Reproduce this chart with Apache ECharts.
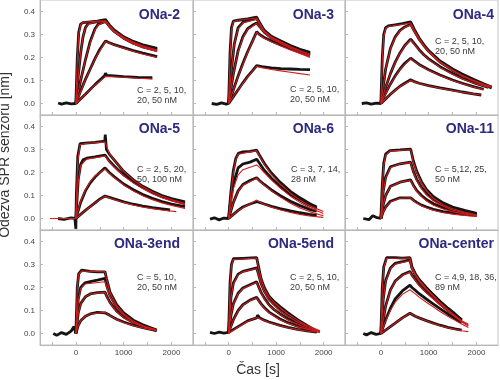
<!DOCTYPE html>
<html><head><meta charset="utf-8">
<script src="https://cdn.jsdelivr.net/npm/echarts@6/dist/echarts.min.js"></script>
<style>html,body{margin:0;padding:0;background:#fff}#c{width:500px;height:380px}</style>
</head><body><div id="c"></div>
<script>
// ---------- text / ticks ----------
const panelTitles = ['ONa-2','ONa-3','ONa-4','ONa-5','ONa-6','ONa-11','ONa-3end','ONa-5end','ONa-center'];
const concLabels = [
  'C = 2, 5, 10,\n20, 50 nM','C = 2, 5, 10,\n20, 50 nM','C = 2, 5, 10,\n20, 50 nM',
  'C = 2, 5, 20,\n50, 100 nM','C = 3, 7, 14,\n28 nM','C = 5,12, 25,\n50 nM',
  'C = 5, 10,\n20, 50 nM','C = 2, 5, 10,\n20, 50 nM','C = 4,9, 18, 36,\n89 nM'];
const xTickValues = [-500,0,500,1000,1500,2000];
const xLabelValues = [0,1000,2000];
const yTickValues = [0,0.1,0.2,0.3,0.4];
const yAxisTitle = 'Odezva SPR senzoru [nm]';
const xAxisTitle = 'Čas [s]';

// ---------- ONa-2 ----------
const ona2Data = [
 [[-370,0.002],[-300,-0.003],[-200,0.003],[-100,-0.002],[0,0],[30,0.2],[60,0.31],[100,0.345],[150,0.352],[300,0.355],[450,0.358],[620,0.365],[700,0.342],[800,0.32],[1000,0.29],[1200,0.27],[1400,0.255],[1700,0.24]],
 [[0,0],[50,0.12],[100,0.22],[150,0.29],[200,0.33],[260,0.348],[400,0.354],[620,0.36],[700,0.338],[800,0.316],[1000,0.287],[1200,0.266],[1400,0.25],[1700,0.235]],
 [[0,0],[100,0.1],[200,0.19],[300,0.27],[400,0.325],[470,0.345],[620,0.357],[700,0.336],[800,0.314],[1000,0.284],[1200,0.262],[1400,0.246],[1700,0.23]],
 [[0,0],[100,0.055],[200,0.105],[300,0.15],[400,0.195],[500,0.235],[620,0.272],[700,0.264],[800,0.256],[1000,0.243],[1200,0.23],[1400,0.219],[1700,0.204]],
 [[0,0],[200,0.04],[400,0.082],[600,0.12],[620,0.132],[650,0.122],[800,0.12],[1000,0.117],[1300,0.114],[1600,0.112]]];
const ona2Fit = [
 [[0,0],[30,0.19],[60,0.3],[100,0.343],[150,0.352],[300,0.356],[620,0.36],[700,0.34],[800,0.318],[1000,0.288],[1200,0.267],[1400,0.251],[1700,0.233]],
 [[0,0],[50,0.12],[100,0.22],[150,0.29],[200,0.328],[260,0.345],[400,0.353],[620,0.357],[700,0.336],[800,0.314],[1000,0.285],[1200,0.263],[1400,0.247],[1700,0.23]],
 [[0,0],[100,0.1],[200,0.19],[300,0.265],[400,0.32],[470,0.342],[620,0.355],[700,0.334],[800,0.312],[1000,0.281],[1200,0.259],[1400,0.243],[1700,0.226]],
 [[0,0],[200,0.103],[400,0.193],[620,0.27],[800,0.254],[1000,0.24],[1200,0.227],[1400,0.215],[1700,0.2]],
 [[0,0],[200,0.04],[400,0.08],[620,0.118],[800,0.116],[1000,0.114],[1300,0.11],[1600,0.107]]];

// ---------- ONa-3 ----------
const ona3Data = [
 [[-356,0],[-250,-0.004],[-150,0.003],[-50,-0.003],[0,0],[30,0.22],[60,0.33],[100,0.358],[200,0.362],[400,0.368],[590,0.376],[650,0.352],[750,0.318],[900,0.292],[1100,0.272],[1300,0.252],[1500,0.236],[1714,0.222]],
 [[0,0],[60,0.15],[120,0.26],[200,0.33],[310,0.355],[450,0.362],[590,0.37],[650,0.348],[750,0.315],[900,0.288],[1100,0.268],[1300,0.249],[1500,0.233],[1714,0.218]],
 [[0,0],[100,0.13],[200,0.23],[300,0.29],[400,0.325],[500,0.34],[590,0.35],[650,0.335],[750,0.31],[900,0.285],[1100,0.263],[1300,0.244],[1500,0.228],[1714,0.213]],
 [[0,0],[100,0.06],[200,0.12],[300,0.175],[400,0.225],[500,0.27],[590,0.312],[650,0.3],[750,0.287],[900,0.272],[1100,0.255],[1300,0.239],[1500,0.223],[1714,0.208]],
 [[0,0],[100,0.03],[200,0.06],[300,0.09],[400,0.118],[500,0.142],[590,0.165],[700,0.16],[900,0.155],[1100,0.152],[1300,0.15],[1500,0.148],[1714,0.147]]];
const ona3Fit = [
 [[0,0],[30,0.21],[60,0.32],[100,0.355],[200,0.362],[590,0.372],[650,0.35],[750,0.316],[900,0.29],[1100,0.268],[1300,0.248],[1500,0.23],[1714,0.214]],
 [[0,0],[60,0.15],[120,0.26],[200,0.325],[310,0.352],[590,0.366],[650,0.346],[750,0.313],[900,0.287],[1100,0.265],[1300,0.245],[1500,0.228],[1714,0.21]],
 [[0,0],[100,0.13],[200,0.225],[300,0.285],[400,0.322],[590,0.348],[650,0.333],[750,0.308],[900,0.282],[1100,0.26],[1300,0.24],[1500,0.222],[1714,0.205]],
 [[0,0],[200,0.118],[400,0.222],[590,0.31],[650,0.298],[750,0.284],[900,0.268],[1100,0.25],[1300,0.233],[1500,0.217],[1714,0.2]],
 [[0,0],[200,0.06],[400,0.116],[590,0.162],[700,0.156],[900,0.148],[1100,0.142],[1300,0.136],[1500,0.13],[1714,0.124]]];

// ---------- ONa-4 ----------
const ona4Data = [
 [[-400,0],[-300,0.003],[-200,-0.003],[-100,0.002],[0,0],[30,0.2],[60,0.3],[100,0.33],[155,0.337],[300,0.342],[450,0.347],[623,0.355],[700,0.322],[800,0.285],[900,0.255],[1000,0.23],[1237,0.185],[1500,0.15],[1700,0.128],[1934,0.105],[2150,0.086],[2318,0.072]],
 [[0,0],[100,0.15],[200,0.24],[300,0.29],[400,0.318],[500,0.333],[623,0.345],[700,0.315],[800,0.28],[900,0.252],[1000,0.227],[1237,0.18],[1500,0.145],[1700,0.122],[1934,0.099],[2150,0.082],[2318,0.068]],
 [[0,0],[100,0.07],[200,0.13],[300,0.18],[400,0.22],[500,0.252],[623,0.28],[700,0.26],[800,0.234],[900,0.212],[1000,0.194],[1237,0.16],[1500,0.13],[1700,0.11],[1934,0.091],[2150,0.076],[2250,0.07]],
 [[0,0],[100,0.045],[200,0.085],[300,0.12],[400,0.15],[500,0.175],[623,0.197],[700,0.185],[800,0.17],[1000,0.147],[1237,0.124],[1500,0.102],[1700,0.088],[1934,0.073],[2150,0.062]],
 [[0,0],[100,0.02],[200,0.04],[300,0.058],[400,0.075],[500,0.088],[623,0.103],[700,0.095],[800,0.088],[1000,0.078],[1237,0.068],[1500,0.058],[1700,0.05],[1934,0.042],[2100,0.037]]];
const ona4Fit = [
 [[0,0],[30,0.19],[60,0.29],[100,0.325],[155,0.335],[623,0.35],[700,0.32],[800,0.283],[900,0.253],[1000,0.228],[1237,0.182],[1500,0.146],[1700,0.123],[1934,0.101],[2150,0.085],[2318,0.074]],
 [[0,0],[100,0.15],[200,0.238],[300,0.288],[400,0.316],[500,0.331],[623,0.342],[700,0.312],[800,0.277],[900,0.249],[1000,0.224],[1237,0.178],[1500,0.143],[1700,0.12],[1934,0.098],[2150,0.08],[2318,0.069]],
 [[0,0],[100,0.07],[200,0.13],[300,0.178],[400,0.218],[500,0.25],[623,0.277],[700,0.257],[800,0.232],[1000,0.192],[1237,0.157],[1500,0.127],[1700,0.108],[1934,0.089],[2250,0.07]],
 [[0,0],[200,0.085],[400,0.148],[623,0.195],[700,0.183],[800,0.168],[1000,0.145],[1237,0.122],[1500,0.1],[1700,0.086],[1934,0.072],[2150,0.061]],
 [[0,0],[200,0.04],[400,0.074],[623,0.1],[700,0.094],[800,0.087],[1000,0.077],[1237,0.066],[1500,0.056],[1700,0.049],[1934,0.042],[2100,0.037]]];

// ---------- ONa-5 ----------
const ona5Data = [
 [[-370,0],[-250,-0.004],[-100,0.003],[-20,0],[0,-0.045],[10,0.1],[40,0.27],[87,0.325],[200,0.328],[400,0.331],[605,0.336],[615,0.365],[640,0.3],[700,0.28],[800,0.255],[900,0.23],[1000,0.205],[1202,0.168],[1400,0.14],[1600,0.118],[1800,0.1],[2000,0.087],[2283,0.072]],
 [[0,0],[50,0.17],[100,0.235],[150,0.255],[227,0.262],[400,0.268],[610,0.276],[700,0.25],[800,0.228],[900,0.208],[1000,0.19],[1202,0.16],[1400,0.135],[1600,0.113],[1800,0.095],[2000,0.082],[2283,0.066]],
 [[0,0],[100,0.07],[200,0.12],[300,0.155],[400,0.18],[500,0.2],[610,0.22],[700,0.2],[800,0.182],[1000,0.15],[1202,0.125],[1400,0.104],[1600,0.088],[1800,0.074],[2000,0.063],[2283,0.052]],
 [[0,0],[100,0.018],[200,0.035],[300,0.052],[400,0.068],[500,0.084],[610,0.098],[700,0.092],[800,0.085],[1000,0.072],[1200,0.062],[1400,0.054],[1600,0.047],[1800,0.042],[1970,0.037]]];
const ona5Fit = [
 [[-540,0],[0,0],[10,0.08],[40,0.25],[87,0.32],[200,0.326],[610,0.333],[700,0.282],[800,0.255],[1000,0.205],[1202,0.167],[1400,0.138],[1600,0.115],[1800,0.097],[2000,0.082],[2283,0.065]],
 [[0,0],[50,0.16],[100,0.23],[227,0.258],[610,0.272],[700,0.247],[800,0.224],[1000,0.186],[1202,0.155],[1400,0.13],[1600,0.108],[1800,0.09],[2000,0.076],[2283,0.06]],
 [[0,0],[100,0.075],[200,0.125],[300,0.16],[400,0.185],[610,0.215],[700,0.197],[800,0.178],[1000,0.146],[1202,0.12],[1400,0.099],[1600,0.082],[1800,0.068],[2000,0.057],[2283,0.044]],
 [[-540,0],[0,0],[200,0.035],[400,0.068],[610,0.097],[800,0.083],[1000,0.07],[1200,0.059],[1400,0.05],[1600,0.043],[1800,0.037],[2100,0.03]]];

// ---------- ONa-6 ----------
const ona6Data = [
 [[-392,-0.003],[-300,0.003],[-200,-0.006],[-100,0.002],[0,0],[50,0.12],[100,0.21],[150,0.26],[205,0.283],[300,0.29],[450,0.292],[590,0.297],[650,0.275],[750,0.24],[900,0.198],[1082,0.158],[1300,0.118],[1500,0.09],[1700,0.065],[1855,0.05]],
 [[0,0],[50,0.09],[100,0.15],[200,0.22],[300,0.237],[450,0.245],[590,0.258],[650,0.24],[750,0.21],[900,0.175],[1082,0.14],[1300,0.105],[1500,0.08],[1700,0.058],[1855,0.045]],
 [[0,0],[100,0.07],[200,0.12],[300,0.148],[450,0.165],[590,0.177],[650,0.165],[750,0.148],[900,0.124],[1082,0.1],[1300,0.075],[1500,0.056],[1700,0.04],[1855,0.032]],
 [[0,0],[100,0.018],[200,0.035],[300,0.05],[450,0.063],[590,0.073],[650,0.07],[750,0.063],[900,0.053],[1082,0.043],[1300,0.033],[1500,0.025],[1700,0.018],[1855,0.014]]];
const ona6Fit = [
 [[0,0],[50,0.11],[100,0.2],[150,0.255],[205,0.28],[590,0.295],[650,0.272],[750,0.236],[900,0.192],[1082,0.15],[1300,0.11],[1500,0.08],[1700,0.056],[1994,0.03]],
 [[0,0],[100,0.13],[200,0.19],[300,0.212],[590,0.233],[650,0.222],[750,0.2],[900,0.168],[1082,0.133],[1300,0.097],[1500,0.07],[1700,0.048],[1994,0.022]],
 [[0,0],[100,0.07],[200,0.118],[300,0.145],[590,0.175],[650,0.163],[750,0.145],[900,0.12],[1082,0.094],[1300,0.066],[1500,0.046],[1700,0.03],[1994,0.012]],
 [[0,0],[200,0.035],[400,0.058],[590,0.08],[650,0.072],[750,0.062],[900,0.05],[1082,0.038],[1300,0.026],[1500,0.018],[1700,0.011],[1994,0.005]]];

// ---------- ONa-11 ----------
const ona11Data = [
 [[-368,0],[-250,-0.005],[-170,0.012],[-100,0.005],[0,0],[30,0.15],[60,0.24],[100,0.28],[190,0.295],[400,0.298],[623,0.302],[680,0.25],[750,0.205],[850,0.16],[958,0.125],[1100,0.095],[1300,0.068],[1500,0.05],[1750,0.035],[2004,0.022]],
 [[0,0],[50,0.12],[100,0.18],[200,0.225],[400,0.238],[623,0.245],[680,0.205],[750,0.17],[850,0.135],[958,0.108],[1100,0.083],[1300,0.06],[1500,0.045],[1750,0.032],[2004,0.02]],
 [[0,0],[50,0.06],[100,0.1],[200,0.14],[400,0.158],[623,0.168],[680,0.145],[750,0.122],[850,0.1],[958,0.082],[1100,0.064],[1300,0.048],[1500,0.036],[1750,0.026],[2004,0.017]],
 [[0,0],[50,0.03],[100,0.05],[200,0.075],[400,0.09],[623,0.09],[680,0.08],[750,0.07],[850,0.058],[958,0.05],[1100,0.04],[1300,0.03],[1500,0.024],[1750,0.018],[2004,0.014]]];
const ona11Fit = [
 [[0,0],[30,0.14],[60,0.23],[100,0.275],[190,0.293],[623,0.3],[680,0.245],[750,0.2],[850,0.155],[958,0.12],[1100,0.088],[1300,0.06],[1500,0.042],[1750,0.027],[2004,0.016]],
 [[0,0],[50,0.115],[100,0.175],[200,0.222],[400,0.238],[623,0.243],[680,0.2],[750,0.165],[850,0.13],[958,0.102],[1100,0.077],[1300,0.053],[1500,0.037],[1750,0.024],[2004,0.014]],
 [[0,0],[50,0.06],[100,0.1],[200,0.138],[400,0.158],[623,0.165],[680,0.142],[750,0.118],[850,0.095],[958,0.076],[1100,0.058],[1300,0.041],[1500,0.029],[1750,0.019],[2004,0.012]],
 [[0,0],[50,0.028],[100,0.048],[200,0.072],[400,0.088],[623,0.09],[680,0.078],[750,0.067],[850,0.055],[958,0.046],[1100,0.036],[1300,0.026],[1500,0.019],[1750,0.013],[2004,0.009]]];

// ---------- ONa-3end ----------
const ona3endData = [
 [[-472,0],[-400,-0.008],[-300,0.004],[-200,-0.004],[-100,0.01],[-40,0.03],[0,0],[30,0.2],[60,0.26],[122,0.276],[300,0.27],[450,0.268],[610,0.268],[640,0.24],[714,0.18],[854,0.125],[1000,0.09],[1202,0.058],[1400,0.038],[1690,0.015]],
 [[0,0],[50,0.15],[100,0.2],[190,0.22],[300,0.226],[450,0.232],[610,0.24],[650,0.205],[714,0.165],[854,0.115],[1000,0.083],[1202,0.054],[1400,0.035],[1690,0.014]],
 [[0,0],[50,0.09],[100,0.13],[200,0.16],[300,0.172],[450,0.178],[610,0.18],[650,0.16],[714,0.135],[854,0.097],[1000,0.072],[1202,0.048],[1400,0.032],[1690,0.013]],
 [[0,0],[50,0.035],[100,0.055],[200,0.075],[300,0.085],[450,0.092],[610,0.09],[700,0.08],[854,0.062],[1000,0.05],[1202,0.036],[1400,0.026],[1690,0.012]]];
const ona3endFit = [
 [[0,0],[30,0.2],[60,0.258],[122,0.272],[610,0.268],[640,0.238],[714,0.178],[854,0.122],[1000,0.086],[1202,0.054],[1400,0.034],[1690,0.016]],
 [[0,0],[50,0.14],[100,0.195],[190,0.215],[610,0.225],[650,0.2],[714,0.162],[854,0.112],[1000,0.08],[1202,0.051],[1400,0.033],[1690,0.015]],
 [[0,0],[50,0.085],[100,0.128],[200,0.16],[300,0.172],[610,0.18],[650,0.158],[714,0.133],[854,0.095],[1000,0.07],[1202,0.046],[1400,0.03],[1690,0.014]],
 [[0,0],[50,0.035],[100,0.055],[200,0.075],[300,0.085],[610,0.092],[700,0.08],[854,0.061],[1000,0.048],[1202,0.034],[1400,0.024],[1690,0.012]]];

// ---------- ONa-5end ----------
const ona5endData = [
 [[-392,0.005],[-300,0],[-200,0.006],[-100,0.002],[0,0.005],[30,0.22],[60,0.3],[100,0.325],[300,0.327],[590,0.33],[620,0.3],[680,0.24],[750,0.2],[850,0.162],[950,0.14],[1082,0.117],[1250,0.09],[1450,0.06],[1650,0.035],[1855,0.01]],
 [[0,0.005],[50,0.16],[100,0.22],[200,0.258],[300,0.27],[450,0.278],[590,0.285],[620,0.265],[680,0.22],[750,0.185],[850,0.15],[950,0.128],[1082,0.102],[1250,0.078],[1450,0.05],[1650,0.03],[1855,0.01]],
 [[0,0.005],[50,0.08],[100,0.13],[200,0.175],[300,0.198],[450,0.212],[590,0.225],[620,0.21],[680,0.18],[750,0.155],[850,0.125],[950,0.105],[1082,0.085],[1250,0.063],[1450,0.043],[1650,0.025],[1855,0.01]],
 [[0,0.005],[100,0.06],[200,0.1],[300,0.125],[450,0.145],[590,0.157],[620,0.15],[680,0.13],[750,0.113],[850,0.093],[1082,0.063],[1250,0.047],[1450,0.032],[1650,0.02],[1855,0.008]],
 [[0,0.005],[200,0.03],[400,0.055],[590,0.068],[610,0.08],[650,0.068],[750,0.058],[850,0.05],[1082,0.035],[1250,0.027],[1450,0.018],[1650,0.012],[1855,0.006]]];
const ona5endFit = [
 [[0,0],[30,0.21],[60,0.295],[100,0.322],[590,0.328],[620,0.298],[680,0.24],[750,0.198],[850,0.16],[950,0.136],[1082,0.112],[1250,0.085],[1450,0.058],[1650,0.035],[1924,0.012]],
 [[0,0],[50,0.155],[100,0.215],[200,0.255],[300,0.268],[590,0.283],[620,0.262],[680,0.218],[750,0.182],[850,0.147],[950,0.124],[1082,0.099],[1250,0.075],[1450,0.05],[1650,0.03],[1924,0.01]],
 [[0,0],[50,0.08],[100,0.128],[200,0.172],[300,0.196],[450,0.21],[590,0.222],[620,0.208],[680,0.178],[750,0.152],[850,0.122],[1082,0.082],[1250,0.06],[1450,0.04],[1650,0.024],[1924,0.009]],
 [[0,0],[100,0.058],[200,0.098],[300,0.123],[450,0.143],[590,0.155],[680,0.128],[750,0.11],[850,0.09],[1082,0.06],[1250,0.044],[1450,0.03],[1650,0.019],[1924,0.008]],
 [[0,0],[200,0.028],[400,0.052],[590,0.07],[650,0.065],[750,0.056],[850,0.048],[1082,0.034],[1250,0.025],[1450,0.017],[1650,0.011],[1924,0.005]]];

// ---------- ONa-center ----------
const onaCenterData = [
 [[-368,0],[-300,-0.006],[-200,0.004],[-100,-0.004],[0,0],[30,0.2],[60,0.29],[120,0.33],[300,0.33],[450,0.328],[609,0.33],[650,0.29],[720,0.26],[800,0.235],[950,0.2],[1100,0.168],[1236,0.14],[1400,0.11],[1550,0.085],[1690,0.06]],
 [[0,0],[50,0.15],[100,0.23],[200,0.285],[300,0.305],[450,0.312],[609,0.32],[650,0.285],[720,0.255],[800,0.23],[950,0.196],[1100,0.165],[1236,0.138],[1400,0.108],[1550,0.082],[1690,0.058]],
 [[0,0],[100,0.12],[200,0.19],[300,0.228],[450,0.255],[609,0.27],[650,0.255],[720,0.235],[800,0.213],[950,0.182],[1100,0.155],[1236,0.13],[1400,0.1],[1550,0.078],[1690,0.055]],
 [[0,0],[100,0.06],[200,0.11],[300,0.15],[450,0.185],[609,0.21],[650,0.2],[720,0.188],[800,0.173],[950,0.15],[1100,0.128],[1236,0.108],[1400,0.085],[1550,0.065],[1690,0.048]],
 [[0,0],[100,0.015],[200,0.03],[300,0.045],[450,0.068],[609,0.088],[650,0.082],[720,0.075],[800,0.068],[950,0.056],[1100,0.045],[1236,0.036],[1400,0.027],[1550,0.02],[1690,0.015]]];
const onaCenterFit = [
 [[0,0],[30,0.19],[60,0.285],[120,0.326],[609,0.328],[650,0.288],[720,0.258],[800,0.232],[950,0.196],[1100,0.163],[1236,0.135],[1400,0.104],[1550,0.078],[1690,0.056],[1830,0.04]],
 [[0,0],[50,0.145],[100,0.225],[200,0.282],[300,0.302],[609,0.316],[650,0.282],[720,0.252],[800,0.227],[950,0.192],[1100,0.16],[1236,0.132],[1400,0.102],[1550,0.076],[1690,0.053],[1830,0.036]],
 [[0,0],[100,0.118],[200,0.188],[300,0.226],[450,0.253],[609,0.267],[650,0.252],[720,0.232],[800,0.21],[950,0.178],[1100,0.15],[1236,0.124],[1400,0.096],[1550,0.073],[1690,0.05],[1830,0.032]],
 [[0,0],[100,0.055],[200,0.1],[300,0.136],[450,0.17],[609,0.19],[650,0.183],[720,0.172],[800,0.158],[950,0.136],[1100,0.115],[1236,0.096],[1400,0.075],[1550,0.057],[1690,0.041],[1830,0.026]],
 [[0,0],[200,0.03],[400,0.06],[609,0.088],[650,0.082],[800,0.067],[950,0.055],[1100,0.043],[1236,0.034],[1400,0.025],[1550,0.018],[1690,0.012],[1830,0.008]]];

const panelData = [ona2Data, ona3Data, ona4Data, ona5Data, ona6Data, ona11Data, ona3endData, ona5endData, onaCenterData];
const panelFit  = [ona2Fit, ona3Fit, ona4Fit, ona5Fit, ona6Fit, ona11Fit, ona3endFit, ona5endFit, onaCenterFit];

// ---------- layout ----------
const colLeft = [40, 193, 345], colW = [153, 152, 153];
const rowTop = [0, 115, 230], rowH = 115;
const titleRight = [180, 334, 494];
const titleY = [15, 129, 244];
const concPos = [[137,86],[290,85],[435,37],[137,165],[291,165],[435,165],[137,273],[290,273],[435,273]];

const FONT = "'Liberation Sans', Arial, sans-serif";
const grids = [], xAxes = [], yAxes = [], series = [], graphics = [];
for (let i = 0; i < 9; i++) {
  const r = Math.floor(i / 3), c = i % 3;
  grids.push({left: colLeft[c], top: rowTop[r], width: colW[c], height: rowH,
    show: true, borderColor: '#c4c4c4', borderWidth: 1, containLabel: false});
  xAxes.push({type: 'value', gridIndex: i, min: -750, max: 2450,
    axisLine: {show: true, onZero: false, lineStyle: {color: '#b8b8b8', width: 1}},
    axisTick: {show: true, inside: true, length: 3, customValues: xTickValues, lineStyle: {color: '#b8b8b8'}},
    axisLabel: {show: r === 2, customValues: xLabelValues, fontSize: 8, color: '#444', margin: 4, fontFamily: FONT,
      formatter: v => String(Math.round(v))},
    splitLine: {show: false}});
  yAxes.push({type: 'value', gridIndex: i, min: -0.05, max: 0.45,
    axisLine: {show: true, onZero: false, lineStyle: {color: '#b8b8b8', width: 1}},
    axisTick: {show: true, inside: true, length: 3, customValues: yTickValues, lineStyle: {color: '#b8b8b8'}},
    axisLabel: {show: c === 0, customValues: yTickValues, fontSize: 8, color: '#444', margin: 5, fontFamily: FONT,
      formatter: v => v.toFixed(1)},
    splitLine: {show: false}});
  panelData[i].forEach(d => series.push({type: 'line', xAxisIndex: i, yAxisIndex: i, data: d,
    symbol: 'none', silent: true, z: 2, lineStyle: {color: '#141414', width: 2.8}}));
  panelFit[i].forEach(d => series.push({type: 'line', xAxisIndex: i, yAxisIndex: i, data: d,
    symbol: 'none', silent: true, z: 3, lineStyle: {color: '#d01c1c', width: 1.1}}));
  graphics.push({type: 'text', x: titleRight[c], y: titleY[r], z: 10,
    style: {text: panelTitles[i], font: 'bold 14px ' + FONT, fill: '#2d2a80', textAlign: 'right', textVerticalAlign: 'middle'}});
  graphics.push({type: 'text', x: concPos[i][0], y: concPos[i][1], z: 10,
    style: {text: concLabels[i], font: '9px ' + FONT, fill: '#3a3a3a', textAlign: 'left', textVerticalAlign: 'top', lineHeight: 10}});
}
graphics.push({type: 'text', x: 5, y: 155, rotation: Math.PI / 2, z: 10,
  style: {text: yAxisTitle, font: '14px ' + FONT, fill: '#333', textAlign: 'center', textVerticalAlign: 'middle'}});
graphics.push({type: 'text', x: 258, y: 370, z: 10,
  style: {text: xAxisTitle, font: '14px ' + FONT, fill: '#333', textAlign: 'center', textVerticalAlign: 'middle'}});

const chart = echarts.init(document.getElementById('c'), null, {renderer: 'canvas'});
chart.setOption({animation: false, backgroundColor: '#fff', grid: grids, xAxis: xAxes, yAxis: yAxes, series: series, graphic: graphics});
</script></body></html>
